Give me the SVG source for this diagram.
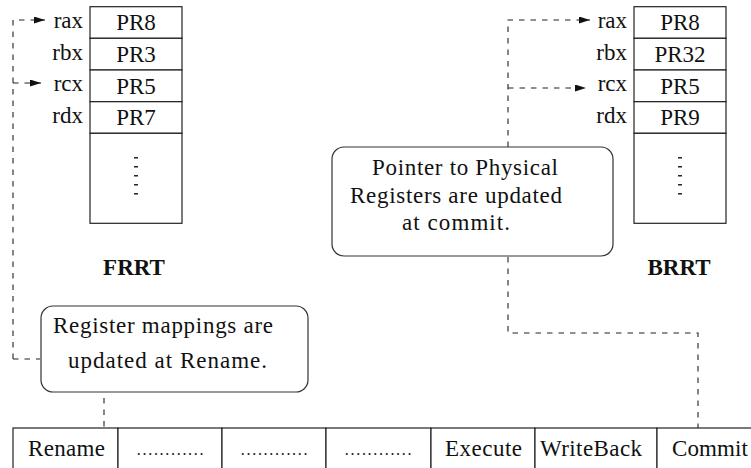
<svg xmlns="http://www.w3.org/2000/svg" width="751" height="468" viewBox="0 0 751 468">
<defs>
<marker id="ah" markerUnits="userSpaceOnUse" markerWidth="12" markerHeight="8" refX="11" refY="3.5" orient="auto">
<path d="M0,0 L11,3.5 L0,7 z" fill="#111"/>
</marker>
<style>
text{font-family:Liberation Serif,Noto Serif,DejaVu Serif,FreeSerif,Nimbus Roman,Tinos,Times,serif;font-size:23px;fill:#111}
.m{text-anchor:middle}
.e{text-anchor:end}
.b{font-weight:bold}
.d{font-size:16px;letter-spacing:1.7px}
.cell{fill:#fff;stroke:#222;stroke-width:1.2}
.box{fill:#fff;stroke:#333;stroke-width:1.2}
.dash{fill:none;stroke:#222;stroke-width:1.1;stroke-dasharray:5.5 6}
.vd{stroke:#222;stroke-width:4;stroke-dasharray:1.6 7.4}
</style>
</defs>
<rect width="751" height="468" fill="#fff"/>
<g id="connectors">
<path class="dash" d="M13,359 L13,20 L45,20" marker-end="url(#ah)"/>
<path class="dash" d="M13,83 L41,83" marker-end="url(#ah)"/>
<path class="dash" d="M13,359 L40,359"/>
<path class="dash" d="M104,398 L104,428"/>
<path class="dash" d="M508,147 L508,20 L590,20" marker-end="url(#ah)"/>
<path class="dash" d="M508,88 L586,88" marker-end="url(#ah)"/>
<path class="dash" d="M508,257 L508,333 L698,333 L698,428"/>
</g>
<g id="frrt">
<rect class="cell" x="90" y="6.7" width="92" height="31.6"/>
<rect class="cell" x="90" y="38.3" width="92" height="31.7"/>
<rect class="cell" x="90" y="70" width="92" height="31.7"/>
<rect class="cell" x="90" y="101.7" width="92" height="31.6"/>
<rect class="cell" x="90" y="133.3" width="92" height="90"/>
<line class="vd" x1="136" y1="157" x2="136" y2="197"/>
<text class="m" x="136" y="30">PR8</text>
<text class="m" x="136" y="62">PR3</text>
<text class="m" x="136" y="94">PR5</text>
<text class="m" x="136" y="125">PR7</text>
<text class="e" x="83" y="28">rax</text>
<text class="e" x="83" y="60">rbx</text>
<text class="e" x="83" y="91">rcx</text>
<text class="e" x="83" y="123">rdx</text>
<text class="m b" x="134" y="275">FRRT</text>
</g>
<g id="brrt">
<rect class="cell" x="634" y="6.7" width="92" height="31.6"/>
<rect class="cell" x="634" y="38.3" width="92" height="31.7"/>
<rect class="cell" x="634" y="70" width="92" height="31.7"/>
<rect class="cell" x="634" y="101.7" width="92" height="31.6"/>
<rect class="cell" x="634" y="133.3" width="92" height="90"/>
<line class="vd" x1="680" y1="157" x2="680" y2="197"/>
<text class="m" x="680" y="30">PR8</text>
<text class="m" x="680" y="62">PR32</text>
<text class="m" x="680" y="94">PR5</text>
<text class="m" x="680" y="125">PR9</text>
<text class="e" x="627" y="28">rax</text>
<text class="e" x="627" y="60">rbx</text>
<text class="e" x="627" y="91">rcx</text>
<text class="e" x="627" y="123">rdx</text>
<text class="m b" x="679" y="275">BRRT</text>
</g>
<g id="note-rename">
<rect class="box" x="41" y="306" width="267" height="86" rx="12"/>
<text x="53" y="333" textLength="220" lengthAdjust="spacing">Register mappings are</text>
<text x="68" y="368" textLength="199" lengthAdjust="spacing">updated at Rename.</text>
</g>
<g id="note-commit">
<rect class="box" x="332" y="147" width="281" height="109" rx="12"/>
<text x="372" y="175" textLength="186" lengthAdjust="spacing">Pointer to Physical</text>
<text x="350" y="203" textLength="212" lengthAdjust="spacing">Registers are updated</text>
<text x="402" y="230" textLength="108" lengthAdjust="spacing">at commit.</text>
</g>
<g id="pipeline">
<rect class="cell" x="13" y="428" width="105" height="50"/>
<rect class="cell" x="118" y="428" width="104" height="50"/>
<rect class="cell" x="222" y="428" width="104" height="50"/>
<rect class="cell" x="326" y="428" width="105" height="50"/>
<rect class="cell" x="431" y="428" width="104" height="50"/>
<rect class="cell" x="535" y="428" width="122" height="50"/>
<rect class="cell" x="657" y="428" width="110" height="50"/>
<text x="28" y="456" textLength="77" lengthAdjust="spacing">Rename</text>
<text class="m d" x="171" y="455">............</text>
<text class="m d" x="275" y="455">............</text>
<text class="m d" x="379" y="455">............</text>
<text x="445" y="456" textLength="77" lengthAdjust="spacing">Execute</text>
<text x="540" y="456" textLength="102" lengthAdjust="spacing">WriteBack</text>
<text x="672" y="456" textLength="76" lengthAdjust="spacing">Commit</text>
</g>
</svg>
